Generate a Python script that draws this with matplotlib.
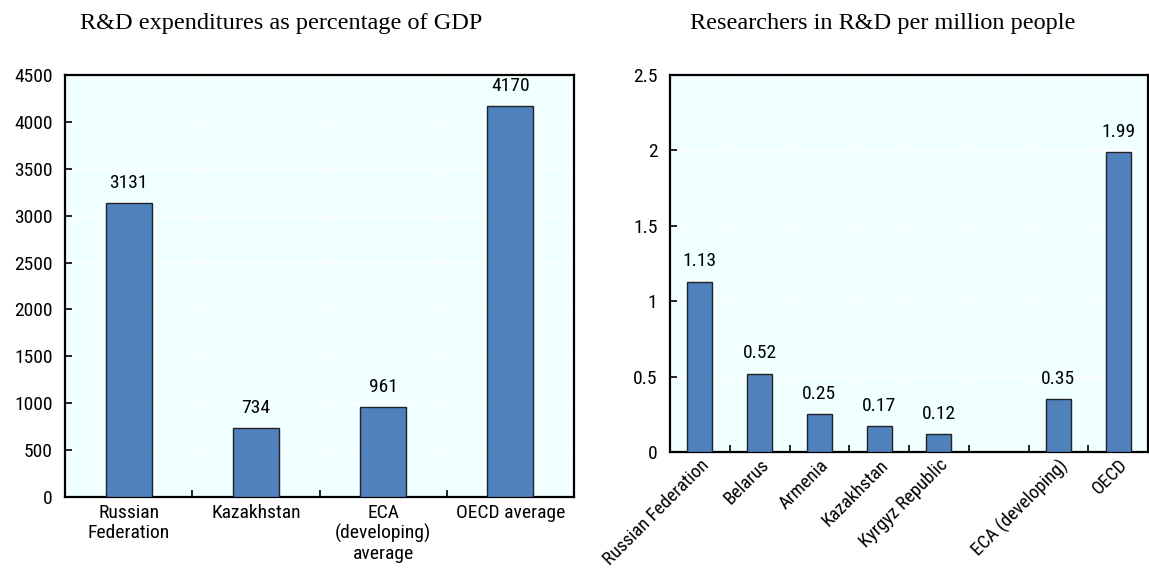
import matplotlib
matplotlib.use("Agg")
import matplotlib.pyplot as plt
from matplotlib import font_manager as fm
import numpy as np

# Data
left_title = "R&D expenditures as percentage of GDP"
left_categories = ["Russian\nFederation", "Kazakhstan", "ECA\n(developing)\naverage", "OECD average"]
left_values = [3131, 734, 961, 4170]
left_labels = ["3131", "734", "961", "4170"]
left_yticks = [0, 500, 1000, 1500, 2000, 2500, 3000, 3500, 4000, 4500]

right_title = "Researchers in R&D per million people"
right_categories = ["Russian Federation", "Belarus", "Armenia", "Kazakhstan",
                    "Kyrgyz Republic", "", "ECA (developing)", "OECD"]
right_values = [1.13, 0.52, 0.25, 0.17, 0.12, None, 0.35, 1.99]
right_labels = ["1.13", "0.52", "0.25", "0.17", "0.12", "", "0.35", "1.99"]
right_yticks = [0, 0.5, 1, 1.5, 2, 2.5]
right_yticklabels = ["0", "0.5", "1", "1.5", "2", "2.5"]

BAR = "#4F81BD"
BG = "#F0FFFF"


def pick_narrow_font():
    """Return (family, stretch) of a condensed sans font if one is installed."""
    preferred = ["Liberation Sans Narrow", "Arial Narrow", "Roboto Condensed",
                 "Open Sans Condensed", "Noto Sans Condensed", "DejaVu Sans Condensed"]
    entries = fm.fontManager.ttflist
    names = {f.name for f in entries}
    for p in preferred:
        if p in names:
            return p, "normal"
    for f in entries:
        st = f.stretch
        cond = (isinstance(st, str) and "condensed" in st) or (isinstance(st, (int, float)) and st < 500)
        if cond and "Serif" not in f.name and "Mono" not in f.name and "CJK" not in f.name:
            return f.name, st
    return None, None


narrow, narrow_stretch = pick_narrow_font()
if narrow is None:
    FAMILY, STRETCH, FS = "Liberation Sans", "normal", 12
else:
    FAMILY, STRETCH, FS = narrow, narrow_stretch, 14
serif = "Liberation Serif"

plt.rcParams["font.family"] = [FAMILY, "DejaVu Sans"]
plt.rcParams["font.stretch"] = STRETCH

fig = plt.figure(figsize=(11.49, 5.68), dpi=100)
W, H = 1149, 568


def axes_px(x0, x1, y0, y1):
    return fig.add_axes([x0 / W, 1 - y1 / H, (x1 - x0) / W, (y1 - y0) / H])


def style(ax, n, ymax, yticks, yticklabels):
    ax.set_facecolor(BG)
    ax.set_xlim(-0.5, n - 0.5)
    ax.set_ylim(0, ymax)
    ax.set_yticks(yticks)
    ax.set_yticklabels(yticklabels, fontsize=FS)
    ax.set_xticks(np.arange(n) - 0.5, minor=True)
    ax.set_xticks(np.arange(n))
    ax.tick_params(axis="x", which="major", length=0, pad=5)
    ax.tick_params(axis="x", which="minor", direction="in", length=5, width=1.2)
    ax.tick_params(axis="y", direction="in", length=5, width=1.2, pad=9)
    ax.grid(True, axis="x", which="minor", color="white", linewidth=1.0)
    ax.grid(True, axis="y", which="major", color="white", linewidth=1.0)
    ax.set_axisbelow(True)
    for s in ax.spines.values():
        s.set_linewidth(1.6)
        s.set_color("black")


# Left panel
axL = axes_px(65, 574, 75, 497)
xl = np.arange(len(left_values))
axL.bar(xl, left_values, width=0.36, color=BAR, edgecolor="#222222", linewidth=1.0, zorder=3)
style(axL, len(left_values), 4500, left_yticks, [str(v) for v in left_yticks])
axL.set_xticklabels(left_categories, fontsize=FS, linespacing=1.12)
for x, v, t in zip(xl, left_values, left_labels):
    axL.annotate(t, (x, v), xytext=(0, 8), textcoords="offset points",
                 ha="center", va="bottom", fontsize=FS)
fig.text(281 / W, 1 - 23 / H, left_title, ha="center", va="center",
         fontsize=17.5, family=serif, stretch="normal")

# Right panel
axR = axes_px(670, 1148, 75, 452)
xr = np.arange(len(right_values))
rv = [np.nan if v is None else v for v in right_values]
axR.bar(xr, rv, width=0.42, color=BAR, edgecolor="#222222", linewidth=1.0, zorder=3)
style(axR, len(right_values), 2.5, right_yticks, right_yticklabels)
axR.tick_params(axis="x", which="major", pad=3)
axR.set_xticklabels(right_categories, fontsize=FS - 0.5, rotation=45, ha="right",
                    rotation_mode="anchor")
for x, v, t in zip(xr, right_values, right_labels):
    if v is not None:
        axR.annotate(t, (x, v), xytext=(0, 8), textcoords="offset points",
                     ha="center", va="bottom", fontsize=FS)
fig.text(883 / W, 1 - 23 / H, right_title, ha="center", va="center",
         fontsize=17.5, family=serif, stretch="normal")

fig.savefig("out.png", dpi=100)
